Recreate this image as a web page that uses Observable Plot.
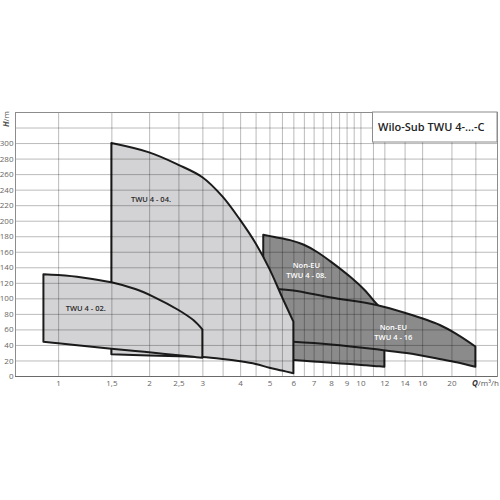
<!DOCTYPE html>
<html>
<head>
<meta charset="utf-8">
<script src="https://cdn.jsdelivr.net/npm/d3@7"></script>
<script src="https://cdn.jsdelivr.net/npm/@observablehq/plot@0.6"></script>
<style>
  html, body { margin: 0; padding: 0; background: #fff; }
  #chart { position: relative; width: 500px; height: 500px; }
</style>
</head>
<body>
<div id="chart"></div>
<script>
// ---- data (Q in m³/h, H in m): upper and lower boundary of each operating field ----
const q02   = [0.894, 1.0, 1.2, 1.5, 1.8, 2.07, 2.5, 2.8, 3.0];
const top02 = [131, 130, 127, 120.7, 112, 102, 85, 72, 60];
const bot02 = [44, 42.1, 39, 35.2, 32.2, 29.9, 26.6, 24.7, 23.5];

const q04   = [1.5, 2.0, 2.5, 3.0, 3.5, 4.0, 4.5, 5.0, 5.5, 6.0];
const top04 = [300, 288, 272, 256, 231, 201, 171, 138, 102, 70];
const bot04 = [28, 26.5, 25.4, 24.5, 22, 19, 15.5, 10.7, 7, 3.5];

const q08   = [4.77, 5.2, 5.85, 6.5, 7.17, 8.0, 9.23, 10.3, 11.3, 12];
const top08 = [182, 179, 175, 169, 160, 147, 128, 111, 93, 82];
const bot08 = [23, 22.1, 20.9, 19.6, 18.4, 17.0, 15.3, 13.9, 12.7, 12];

const q16   = [5.3, 6.0, 8.0, 11.3, 14.2, 18.3, 21, 24];
const top16 = [112, 110, 101, 91.5, 80.7, 65.7, 53, 38];
const bot16 = [45, 44, 40.5, 34.3, 29.5, 22, 17.5, 12];

const labelText = ["TWU 4 - 02.", "TWU 4 - 04.", "Non-EU\nTWU 4 - 08.", "Non-EU\nTWU 4 - 16"];
const labelQ = [1.23, 2.02, 6.6, 12.8];
const labelH = [88, 229, 137, 57.5];
const labelColor = ["#2a2a2a", "#2a2a2a", "#ffffff", "#ffffff"];

const xTicks = [1, 1.5, 2, 2.5, 3, 4, 5, 6, 7, 8, 9, 10, 12, 14, 16, 20];
const xTickLabels = ["1", "1,5", "2", "2,5", "3", "4", "5", "6", "7", "8", "9", "10", "12", "14", "16", "20"];
const xGrid = [1, 1.5, 2, 2.5, 3, 3.5, 4, 4.5, 5, 5.5, 6, 6.5, 7, 7.5, 8, 8.5, 9, 9.5, 10, 11, 12, 14, 16, 20, 24];
const yTicks = [0, 20, 40, 60, 80, 100, 120, 140, 160, 180, 200, 220, 240, 260, 280, 300];
const yGrid = [20, 40, 60, 80, 100, 120, 140, 160, 180, 200, 220, 240, 260, 280, 300, 320];

const title = "Wilo-Sub TWU 4-...-C";

// ---- build tables ----
const toRows = (qs, hi, lo) => qs.map((q, i) => ({q, hi: hi[i], lo: lo[i]}));
const s02 = toRows(q02, top02, bot02), s04 = toRows(q04, top04, bot04),
      s08 = toRows(q08, top08, bot08), s16 = toRows(q16, top16, bot16);
const labels = labelText.map((t, i) => ({t, q: labelQ[i], h: labelH[i], c: labelColor[i]}));
const xTickRows = xTicks.map((v, i) => ({v, t: xTickLabels[i]}));

const LIGHT = "#d3d3d5", DARK = "#8b8b8b", EDGE = "#1c1c1c";
const field = (rows, fill) => Plot.areaY(rows, {x: "q", y1: "lo", y2: "hi", fill, stroke: EDGE,
  strokeWidth: 2, strokeLinejoin: "round", curve: "catmull-rom"});

const plot = Plot.plot({
  width: 500,
  height: 500,
  marginLeft: 15,
  marginRight: 3,
  marginTop: 112,
  marginBottom: 124,
  style: {fontFamily: "Open Sans", background: "#fff"},
  x: {type: "log", domain: [0.72, 28.3], axis: null},
  y: {domain: [0, 340]},
  marks: [
    field(s08, DARK),
    field(s16, DARK),
    field(s04, LIGHT),
    field(s02, LIGHT),
    Plot.ruleX(xGrid, {stroke: "#000", strokeOpacity: 0.27, strokeWidth: 1}),
    Plot.ruleY(yGrid, {stroke: "#000", strokeOpacity: 0.27, strokeWidth: 1}),
    Plot.text(labels, {x: "q", y: "h", text: "t", fill: "c", fontSize: 7.5, fontWeight: 600, lineHeight: 1.35}),
    Plot.frame({stroke: "#8c8c8c", strokeWidth: 1}),
    Plot.ruleY([0], {stroke: "#6a6a6a", strokeWidth: 1.2}),
    Plot.text(xTickRows, {x: "v", text: "t", frameAnchor: "bottom", lineAnchor: "top", dy: 4,
      fontSize: 8, fill: "#666"}),
    Plot.axisY(yTicks, {tickSize: 0, tickPadding: 2, fontSize: 8, fill: "#666", label: null})
  ]
});

document.getElementById("chart").appendChild(plot);

// ---- decorations: axis titles and title box ----
const svg = d3.select(plot);
const hl = svg.append("text")
  .attr("transform", "translate(9,127) rotate(-90)")
  .attr("text-anchor", "start")
  .attr("font-family", "Open Sans").attr("font-size", 8).attr("fill", "#555");
hl.append("tspan").attr("font-style", "italic").attr("font-weight", 700).text("H");
hl.append("tspan").text("/m");

const ql = svg.append("text")
  .attr("x", 472).attr("y", 386)
  .attr("text-anchor", "start")
  .attr("font-family", "Open Sans").attr("font-size", 8).attr("fill", "#555");
ql.append("tspan").attr("font-style", "italic").attr("font-weight", 700).attr("fill", "#333").text("Q");
ql.append("tspan").text("/m³/h");

svg.append("rect")
  .attr("x", 372.5).attr("y", 112).attr("width", 124.5).attr("height", 30)
  .attr("fill", "#fff").attr("stroke", "#8c8c8c").attr("stroke-width", 1);
svg.append("text")
  .attr("x", 378).attr("y", 127).attr("dy", "0.35em")
  .attr("text-anchor", "start")
  .attr("font-family", "Open Sans").attr("font-size", 11).attr("font-weight", 600).attr("fill", "#222")
  .text(title);
</script>
</body>
</html>
